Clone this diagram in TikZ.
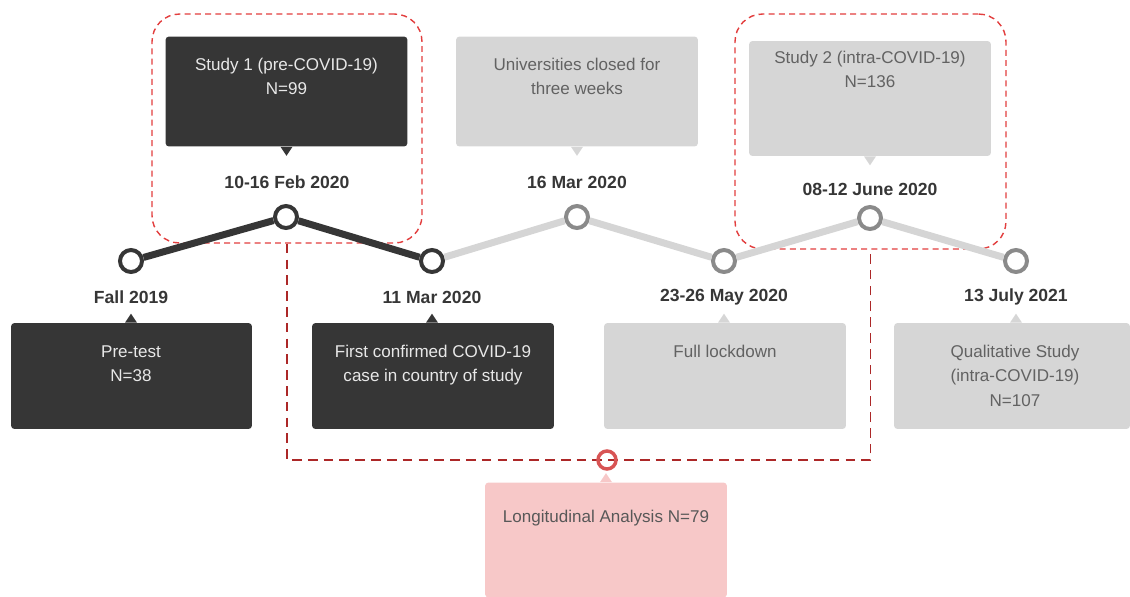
\documentclass[tikz,border=0pt]{standalone}
\usepackage{fontspec}
\setmainfont{Liberation Sans}
\usepackage{tikz}
\usepackage{xcolor}
\definecolor{tldark}{RGB}{54, 54, 54}
\definecolor{tlgray}{RGB}{138, 138, 138}
\definecolor{tlline}{RGB}{213, 213, 213}
\definecolor{tllight}{RGB}{214, 214, 214}
\definecolor{tltxt}{RGB}{98, 98, 98}
\definecolor{tlwhite}{RGB}{232, 232, 232}
\definecolor{frred}{RGB}{226, 62, 62}
\definecolor{lkred}{RGB}{172, 40, 40}
\definecolor{lapink}{RGB}{247, 200, 200}
\definecolor{laring}{RGB}{216, 84, 84}
\tikzset{
    tlnode/.style={circle, draw, line width=0.08cm, fill=white, minimum size=0.44cm, inner sep=0pt},
    darkpt/.style={tlnode, draw=tldark},
    lightpt/.style={tlnode, draw=tlgray},
    datelbl/.style={font=\fontsize{10}{12}\selectfont\bfseries, text=tldark},
    infobox/.style={rectangle, rounded corners=2pt, minimum width=4.84cm, minimum height=2.2cm, inner sep=0pt},
    darkbox/.style={infobox, fill=tldark},
    lightbox/.style={infobox, fill=tllight},
    boxtxt/.style={anchor=north, align=center, inner sep=0pt, font=\fontsize{9.7}{13.8}\selectfont},
    darktxt/.style={boxtxt, text=tlwhite},
    lighttxt/.style={boxtxt, text=tltxt},
    studyframe/.style={draw=frred, line width=0.8pt, dash pattern=on 3.4pt off 2.4pt, rounded corners=0.55cm, inner sep=0pt},
    linkline/.style={draw=lkred, line width=0.8pt, dash pattern=on 5.5pt off 3.5pt}
}

\begin{document}
\begin{tikzpicture}[x=0.02cm, y=-0.02cm]
    \useasboundingbox (0,0) rectangle (1130,596);

    % study frames
    \node[studyframe, minimum width=5.4cm, minimum height=4.58cm] (f1) at (287,128.5) {};
    \node[studyframe, minimum width=5.42cm, minimum height=4.7cm] (f2) at (870.5,131.5) {};

    % timeline
    \node[darkpt] (c1) at (131,261) {};
    \node[darkpt] (c2) at (286,217) {};
    \node[darkpt] (c3) at (432,261) {};
    \node[lightpt] (c4) at (577,217) {};
    \node[lightpt] (c5) at (724,261) {};
    \node[lightpt] (c6) at (870,218) {};
    \node[lightpt] (c7) at (1016,261) {};
    \draw[tldark, line width=0.14cm] (c1) -- (c2) -- (c3);
    \draw[tlline, line width=0.14cm] (c3) -- (c4) -- (c5) -- (c6) -- (c7);

    % dates
    \node[datelbl] (d1) at (131,297) {Fall 2019};
    \node[datelbl] (d2) at (287,182) {10-16 Feb 2020};
    \node[datelbl] (d3) at (432,297) {11 Mar 2020};
    \node[datelbl] (d4) at (577,182) {16 Mar 2020};
    \node[datelbl] (d5) at (724,297) {23-26 May 2020};
    \node[datelbl] (d6) at (870,189) {08-12 June 2020};
    \node[datelbl] (d7) at (1016,297) {13 July 2021};

    % boxes above
    \node[darkbox] (b2) at (286.5,91.5) {};
    \node[lightbox] (b4) at (577,91.5) {};
    \node[lightbox, minimum height=2.3cm] (b6) at (870,98.5) {};
    \fill[tldark] (b2.south) ++(-6,0) -- ++(6,9) -- ++(6,-9) -- cycle;
    \fill[tllight] (b4.south) ++(-6,0) -- ++(6,9) -- ++(6,-9) -- cycle;
    \fill[tllight] (b6.south) ++(-6,0) -- ++(6,9) -- ++(6,-9) -- cycle;
    \node[darktxt] (t2) at (286.5,58) {Study 1 (pre-COVID-19)\\N=99};
    \node[lighttxt] (t4) at (577,58) {Universities closed for\\three weeks};
    \node[lighttxt] (t6) at (870,51) {Study 2 (intra-COVID-19)\\N=136};

    % boxes below
    \node[darkbox, minimum width=4.82cm, minimum height=2.12cm] (b1) at (131.5,376) {};
    \node[darkbox, minimum height=2.12cm] (b3) at (433,376) {};
    \node[lightbox, minimum height=2.12cm] (b5) at (725,376) {};
    \node[lightbox, minimum width=4.72cm, minimum height=2.12cm] (b7) at (1012,376) {};
    \fill[tldark] (b1.north -| c1) ++(-6,0) -- ++(6,-9) -- ++(6,9) -- cycle;
    \fill[tldark] (b3.north -| c3) ++(-6,0) -- ++(6,-9) -- ++(6,9) -- cycle;
    \fill[tllight] (b5.north -| c5) ++(-6,0) -- ++(6,-9) -- ++(6,9) -- cycle;
    \fill[tllight] (b7.north -| c7) ++(-6,0) -- ++(6,-9) -- ++(6,9) -- cycle;
    \node[darktxt] (t1) at (131,345) {Pre-test\\N=38};
    \node[darktxt] (t3) at (433,345) {First confirmed COVID-19\\case in country of study};
    \node[lighttxt] (t5) at (725,345) {Full lockdown};
    \node[lighttxt] (t7) at (1015,345) {Qualitative Study\\(intra-COVID-19)\\N=107};

    % longitudinal link
    \node[rectangle, rounded corners=2pt, fill=lapink, minimum width=4.84cm, minimum height=2.3cm, inner sep=0pt] (la) at (606,540) {};
    \fill[lapink] (la.north) ++(-6,0) -- ++(6,-9) -- ++(6,9) -- cycle;
    \node[lighttxt, text=tltxt!90!black] (lt) at (606,510) {Longitudinal Analysis N=79};
    \coordinate (lj) at (607,460);
    \draw[linkline] (f1.south) |- (lj) -| (f2.south);
    \node[circle, draw=laring, line width=0.07cm, minimum size=0.36cm, inner sep=0pt] (lr) at (lj) {};
\end{tikzpicture}
\end{document}
